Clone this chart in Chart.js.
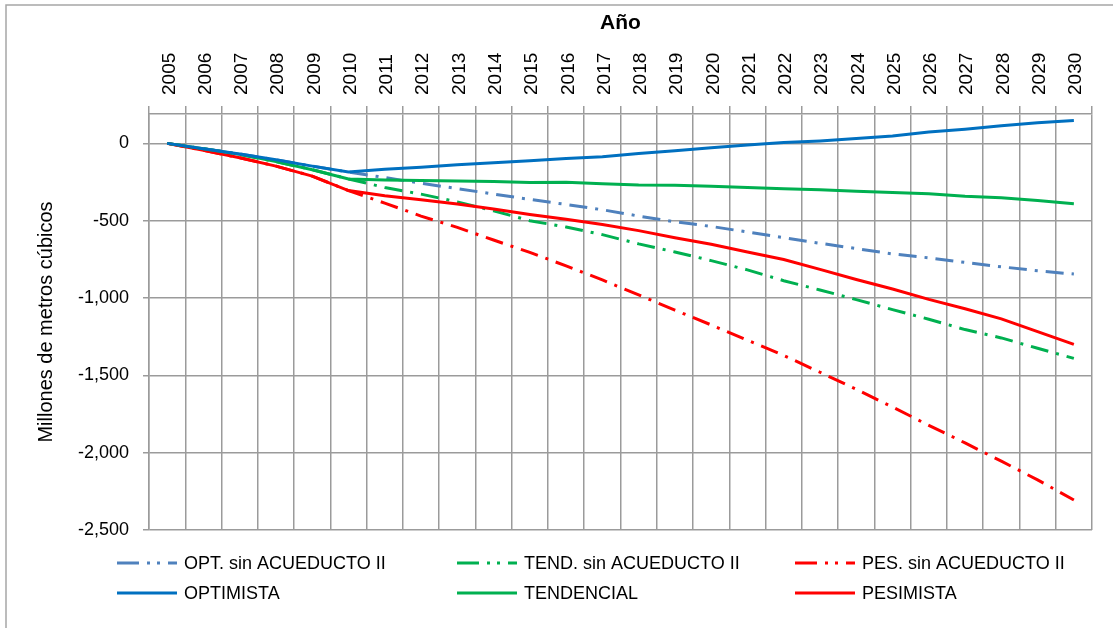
<!DOCTYPE html>
<html lang="es">
<head>
<meta charset="utf-8">
<title>Millones de metros cúbicos por año</title>
<script src="https://cdn.jsdelivr.net/npm/chart.js@4.4.1/dist/chart.umd.min.js"></script>
<style>
    html, body { margin: 0; padding: 0; background: #fff; }
    #balanceChart { display: block; }
</style>
</head>
<body>
<canvas id="balanceChart" width="1113" height="628"></canvas>
<script>
const years = ['2005', '2006', '2007', '2008', '2009', '2010', '2011', '2012', '2013', '2014', '2015', '2016', '2017',
    '2018', '2019', '2020', '2021', '2022', '2023', '2024', '2025', '2026', '2027', '2028', '2029', '2030'];

const optSinAcueducto = [0, -35, -68, -106, -147, -185, -221, -258, -292, -328, -362, -395, -429,
    -470, -507, -537, -573, -610, -646, -680, -715, -740, -770, -798, -824, -845];
const tendSinAcueducto = [0, -34, -71, -118, -170, -230, -285, -328, -378, -436, -500, -541, -590,
    -650, -702, -758, -818, -888, -948, -1010, -1075, -1137, -1204, -1258, -1325, -1390];
const pesSinAcueducto = [0, -45, -93, -147, -212, -305, -386, -470, -543, -625, -705, -792, -883,
    -980, -1078, -1174, -1273, -1371, -1480, -1590, -1705, -1823, -1937, -2055, -2176, -2306];
const optimista = [0, -35, -68, -106, -147, -185, -167, -155, -138, -126, -113, -97, -86,
    -66, -48, -28, -10, 5, 16, 31, 48, 73, 91, 114, 134, 148];
const tendencial = [0, -34, -71, -118, -170, -230, -237, -240, -244, -247, -253, -252, -261,
    -269, -270, -277, -285, -293, -300, -309, -317, -326, -342, -352, -369, -390];
const pesimista = [0, -45, -93, -147, -212, -305, -338, -364, -392, -424, -460, -491, -524,
    -564, -610, -652, -702, -751, -815, -880, -942, -1009, -1069, -1135, -1217, -1300];

const seriesNames = ['OPT. sin ACUEDUCTO II', 'TEND. sin ACUEDUCTO II', 'PES. sin ACUEDUCTO II',
    'OPTIMISTA', 'TENDENCIAL', 'PESIMISTA'];
const yTicks = [-2500, -2000, -1500, -1000, -500, 0];

const GRID = '#9b9b9b';
const DASH_DOT = [18, 8, 3, 8];

// texto horizontal "estrecho" como en el original (si la fuente existe)
function hasFont(name) {
    const c = document.createElement('canvas').getContext('2d');
    const s = 'OPT. sin ACUEDUCTO II 2005';
    c.font = '40px monospace';
    const a = c.measureText(s).width;
    c.font = `40px '${name}', monospace`;
    return Math.abs(c.measureText(s).width - a) > 0.5;
}
const NARROW = hasFont('Liberation Sans Narrow');
const FLAT_FONT = NARROW ? { family: "'Liberation Sans Narrow', sans-serif", size: 22 }
                         : { family: "'Liberation Sans', Arial, sans-serif", size: 18 };
const BASE_FAMILY = "'Liberation Sans', Arial, sans-serif";

function makeDataset(label, data, color, dashed) {
    return {
        label, data,
        borderColor: color, backgroundColor: color,
        borderWidth: 3, borderDash: dashed ? DASH_DOT : [],
        borderCapStyle: 'butt', pointRadius: 0, tension: 0, fill: false,
        order: dashed ? 1 : 0
    };
}

const datasets = [
    makeDataset(seriesNames[0], optSinAcueducto, '#4f81bd', true),
    makeDataset(seriesNames[1], tendSinAcueducto, '#00b050', true),
    makeDataset(seriesNames[2], pesSinAcueducto, '#ff0000', true),
    makeDataset(seriesNames[3], optimista, '#0070c0', false),
    makeDataset(seriesNames[4], tendencial, '#00b050', false),
    makeDataset(seriesNames[5], pesimista, '#ff0000', false)
];

// marco gris del área del gráfico
const framePlugin = {
    id: 'frame',
    beforeDraw(chart) {
        const c = chart.ctx;
        c.save();
        c.strokeStyle = '#a6a6a6';
        c.lineWidth = 1.5;
        c.beginPath();
        c.moveTo(6, chart.height + 2);
        c.lineTo(6, 5);
        c.lineTo(chart.width + 2, 5);
        c.stroke();
        c.restore();
    }
};

// leyenda en 3 columnas x 2 filas
const gridLegendPlugin = {
    id: 'gridLegend',
    afterDraw(chart) {
        const c = chart.ctx;
        const colX = [117, 457, 795];
        const rowY = [563, 593];
        c.save();
        chart.data.datasets.forEach((ds, i) => {
            const x = colX[i % 3], y = rowY[Math.floor(i / 3)];
            c.strokeStyle = ds.borderColor;
            c.lineWidth = 3;
            c.lineCap = 'butt';
            c.setLineDash(ds.borderDash.length ? [22, 8, 3, 7, 3, 8] : []);
            c.beginPath();
            c.moveTo(x, y);
            c.lineTo(x + 60, y);
            c.stroke();
            c.setLineDash([]);
            c.fillStyle = '#000';
            c.font = `${FLAT_FONT.size}px ${FLAT_FONT.family}`;
            c.textAlign = 'left';
            c.textBaseline = 'middle';
            c.fillText(ds.label, x + 67, y + 1);
        });
        c.restore();
    }
};

const ctx = document.getElementById('balanceChart').getContext('2d');
const balanceChart = new Chart(ctx, {
    type: 'line',
    data: { labels: years, datasets },
    options: {
        responsive: false, animation: false, devicePixelRatio: 1,
        layout: { padding: { top: 0, right: 21, bottom: 98, left: 0 } },
        plugins: { legend: { display: false }, tooltip: { enabled: false } },
        scales: {
            x: {
                position: 'top',
                offset: true,
                grid: { offset: true, color: GRID, lineWidth: 1.5, tickLength: 8, tickColor: GRID },
                border: { color: GRID, width: 1.5 },
                ticks: { minRotation: 90, maxRotation: 90, autoSkip: false, padding: 11, labelOffset: 25,
                         color: '#000', font: { family: BASE_FAMILY, size: 19 } },
                title: { display: true, text: 'Año', color: '#000', padding: { top: 11, bottom: 0 },
                         font: { family: BASE_FAMILY, size: 21, weight: 'bold' } },
                afterFit: s => { s.height = 114; }
            },
            y: {
                min: -2500, max: 190,
                afterBuildTicks: s => { s.ticks = yTicks.map(v => ({ value: v })); },
                grid: { color: GRID, lineWidth: 1.5, tickLength: 6, tickColor: GRID },
                border: { color: GRID, width: 1.5 },
                ticks: { padding: 14, color: '#000', font: FLAT_FONT,
                         callback: v => v.toLocaleString('en-US') },
                title: { display: true, text: 'Millones de metros cúbicos', color: '#000',
                         padding: { top: 34, bottom: 0 }, font: { family: BASE_FAMILY, size: 20 } },
                afterFit: s => { s.width = 149; }
            }
        }
    },
    plugins: [framePlugin, gridLegendPlugin]
});
</script>
</body>
</html>
